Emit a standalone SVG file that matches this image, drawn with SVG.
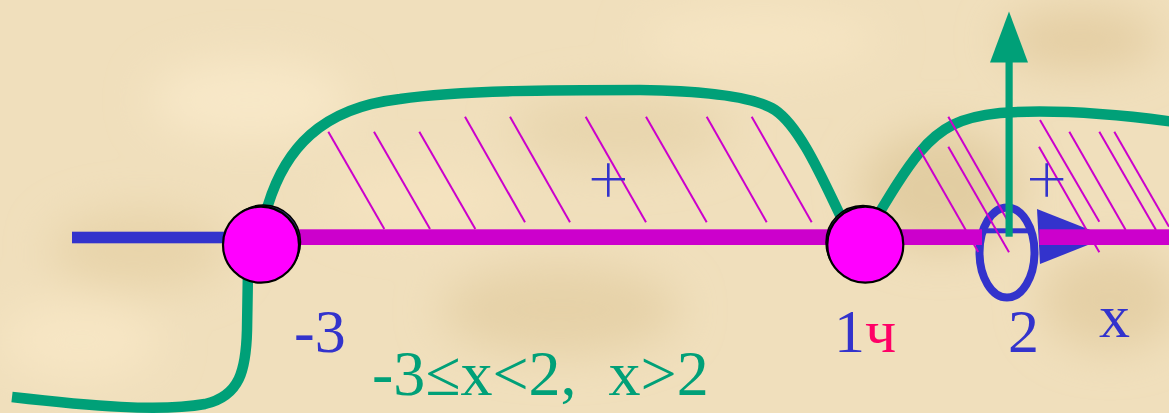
<svg xmlns="http://www.w3.org/2000/svg" width="1169" height="413" viewBox="0 0 1169 413">
  <defs>
    <filter id="blur" x="-50%" y="-50%" width="200%" height="200%">
      <feGaussianBlur stdDeviation="22"/>
    </filter>
    <style>
      .hatch { stroke: #cc00cc; stroke-width: 2; fill: none; }
      .curve { stroke: #00a078; stroke-width: 10.5; fill: none; stroke-linecap: butt; }
      .pt { fill: #ff00ff; stroke: #000; stroke-width: 2.2; }
      .shadow { fill: #2a2a70; stroke: #000; stroke-width: 1.5; }
      .lbl { font-family: "Liberation Serif", "Times New Roman", serif; font-size: 62px; }
      .blue { fill: #3333cc; }
      .plus { stroke: #3333cc; stroke-width: 2.6; fill: none; }
    </style>
  </defs>

  <g id="background">
    <rect x="0" y="0" width="1169" height="413" fill="#f0dfbc"/>
    <g filter="url(#blur)">
      <ellipse cx="140" cy="250" rx="90" ry="40" fill="#e8d4aa"/>
      <ellipse cx="560" cy="310" rx="120" ry="45" fill="#e6d2a8"/>
      <ellipse cx="940" cy="190" rx="80" ry="60" fill="#e2cda2"/>
      <ellipse cx="620" cy="130" rx="110" ry="35" fill="#e8d5ad"/>
      <ellipse cx="1110" cy="300" rx="70" ry="50" fill="#e5d0a6"/>
      <ellipse cx="250" cy="100" rx="100" ry="40" fill="#f8e8c8"/>
      <ellipse cx="80" cy="340" rx="80" ry="40" fill="#f7e6c4"/>
      <ellipse cx="760" cy="40" rx="120" ry="30" fill="#f6e5c3"/>
      <ellipse cx="420" cy="200" rx="90" ry="30" fill="#f5e3c0"/>
      <ellipse cx="1080" cy="40" rx="80" ry="30" fill="#e4cea3"/>
    </g>
  </g>

  <g id="hatching">
    <line class="hatch" x1="328.3" y1="131.7" x2="384.3" y2="229"/>
    <line class="hatch" x1="374" y1="131.7" x2="430" y2="229"/>
    <line class="hatch" x1="419.3" y1="131.7" x2="475.3" y2="229"/>
    <line class="hatch" x1="465" y1="116.7" x2="525" y2="222.3"/>
    <line class="hatch" x1="510" y1="116.7" x2="570" y2="222.3"/>
    <line class="hatch" x1="585.7" y1="116.7" x2="646" y2="222.3"/>
    <line class="hatch" x1="646" y1="116.7" x2="706.7" y2="222.3"/>
    <line class="hatch" x1="706.7" y1="116.7" x2="766.7" y2="222.3"/>
    <line class="hatch" x1="751.7" y1="116.7" x2="811.7" y2="222.3"/>
  </g>

  <g id="connectors">
    <!-- blue axis, left part -->
    <rect x="72" y="231.7" width="160" height="11.6" fill="#3333cc"/>
    <!-- green sign curve -->
    <path class="curve" d="M12,397 C90,406 160,412 205,404 C240,396 246,370 247,330 L248,270 C250,245 258,225 268,205 C285,150 320,108 400,99 C460,90 560,90 640,90 C710,91 755,97 775,110 C800,127 822,178 840,215"/>
    <path class="curve" d="M872,225 C890,195 905,170 920,152 C940,128 960,117 1000,113 C1040,110 1100,112 1175,122"/>
    <!-- blue arrow head of x axis -->
    <polygon points="1037,209 1108,237 1040,264" fill="#3333cc"/>
    <!-- blue ellipse at x=2 -->
    <ellipse cx="1007" cy="252.5" rx="27.5" ry="45" fill="none" stroke="#3333cc" stroke-width="8"/>
    <rect x="982" y="228.3" width="50" height="5" fill="#3333cc"/>
    <!-- right hatching -->
    <g id="hatching-right">
      <line class="hatch" x1="918.3" y1="147.3" x2="978.3" y2="252"/>
      <line class="hatch" x1="948.3" y1="116.7" x2="1008.3" y2="221.7"/>
      <line class="hatch" x1="948.3" y1="146.7" x2="1009" y2="252.3"/>
      <line class="hatch" x1="1040" y1="120" x2="1099.3" y2="221.7"/>
      <line class="hatch" x1="1039" y1="146.7" x2="1099.3" y2="252.3"/>
      <line class="hatch" x1="1069.3" y1="131.7" x2="1125.7" y2="230"/>
      <line class="hatch" x1="1099.3" y1="131.7" x2="1156" y2="230"/>
      <line class="hatch" x1="1114.3" y1="131.7" x2="1169" y2="226.7"/>
    </g>
    <!-- magenta solution bar -->
    <rect x="275" y="229.3" width="707" height="15.7" fill="#cc00cc"/>
    <rect x="1039.3" y="229.3" width="130" height="15.7" fill="#cc00cc"/>
    <!-- green vertical arrow -->
    <rect x="1005.5" y="60" width="7.2" height="176.7" fill="#00a078"/>
    <polygon points="990,62.5 1028,62.5 1009,11.5" fill="#00a078"/>
  </g>

  <g id="node-minus3">
    <circle class="shadow" cx="263.5" cy="242" r="37"/>
    <circle class="pt" cx="261" cy="244.7" r="38"/>
  </g>

  <g id="node-1">
    <circle class="shadow" cx="863" cy="242.5" r="37"/>
    <circle class="pt" cx="865.3" cy="244.7" r="38"/>
  </g>

  <g id="signs">
    <path class="plus" d="M591.7,179.3 H625 M608.3,163.3 V196.7"/>
    <path class="plus" d="M1030,179.3 H1063.3 M1046.7,163.3 V196.7"/>
  </g>

  <g id="labels">
    <text class="lbl blue" x="294" y="351.7">-3</text>
    <text class="lbl blue" x="834" y="351.7">1<tspan fill="#ff0066">ч</tspan></text>
    <text class="lbl blue" x="1008" y="351.7">2</text>
    <text class="lbl blue" x="1099" y="336.7">x</text>
    <text class="lbl" x="372" y="395" fill="#00a078" style="font-size:64px" xml:space="preserve">-3≤x&lt;2,  x&gt;2</text>
  </g>
</svg>
